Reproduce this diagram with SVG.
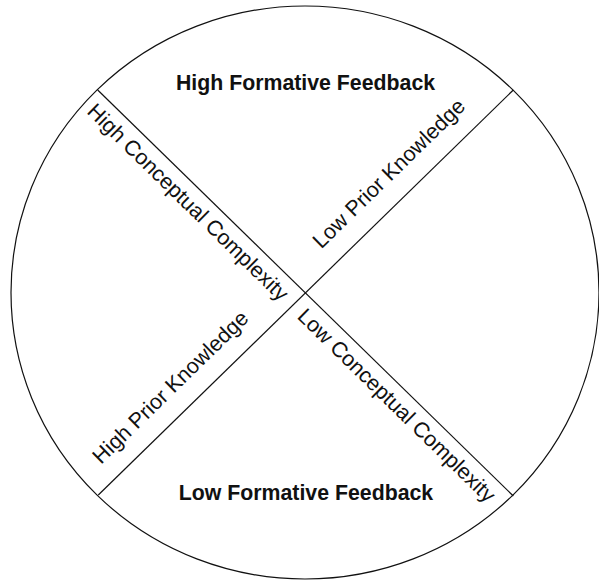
<svg xmlns="http://www.w3.org/2000/svg" width="599" height="581" viewBox="0 0 599 581">
<style>
.shape{fill:none;stroke:#111;stroke-width:1.2}
.lbl{font-family:"Liberation Sans",Arial,sans-serif;font-size:21.5px;fill:#111}
.title{font-family:"Liberation Sans",Arial,sans-serif;font-size:21.3px;font-weight:bold;fill:#111;text-anchor:middle}
</style>
<rect width="599" height="581" fill="#fff"/>
<g id="circle"><ellipse class="shape" cx="305" cy="292.5" rx="294" ry="286.5"/></g>
<g id="connectors">
<line class="shape" x1="97.7" y1="90" x2="513.3" y2="496"/>
<line class="shape" x1="98.3" y1="495" x2="513.3" y2="90"/>
</g>
<g id="high-formative"><text class="title" x="305.5" y="89.5">High Formative Feedback</text></g>
<g id="low-formative"><text class="title" x="306" y="500">Low Formative Feedback</text></g>
<g id="high-conceptual"><text class="lbl" transform="translate(85.9,112.6) rotate(44.33)">High Conceptual Complexity</text></g>
<g id="low-conceptual"><text class="lbl" transform="translate(296.2,317.5) rotate(44.33)">Low Conceptual Complexity</text></g>
<g id="high-prior"><text class="lbl" transform="translate(101.1,465) rotate(-44.3)">High Prior Knowledge</text></g>
<g id="low-prior"><text class="lbl" transform="translate(321.2,249.5) rotate(-44.3)">Low Prior Knowledge</text></g>
</svg>
